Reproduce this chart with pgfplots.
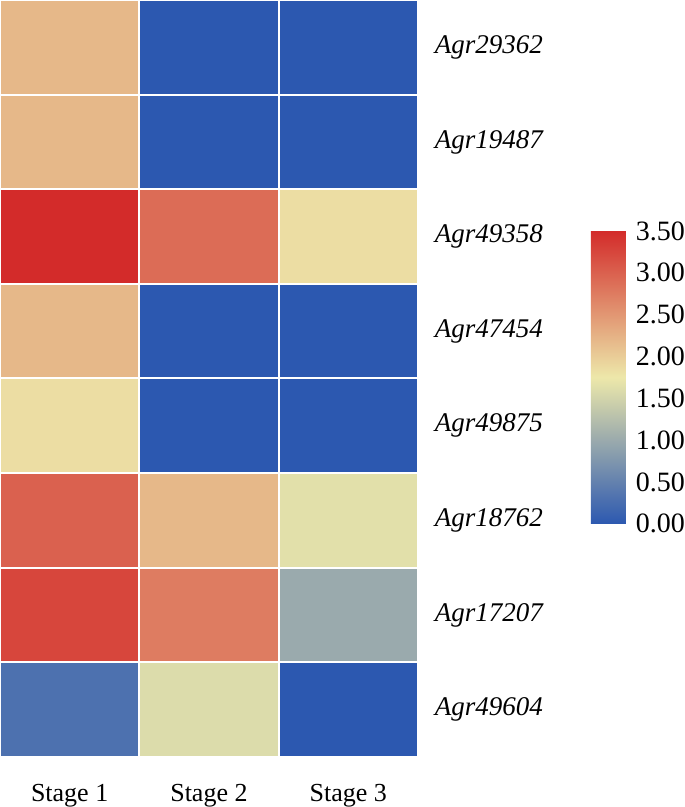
\documentclass[border=0pt]{standalone}
\usepackage{pgfplots}
\pgfplotsset{compat=1.18}
\usepackage{fontspec}
\setmainfont{Liberation Serif}

\pgfplotstableread{
x y v
0 0 2.2
1 0 0
2 0 0
0 1 2.2
1 1 0
2 1 0
0 2 3.5
1 2 2.9
2 2 1.85
0 3 2.2
1 3 0
2 3 0
0 4 1.85
1 4 0
2 4 0
0 5 3.0
1 5 2.2
2 5 1.65
0 6 3.25
1 6 2.75
2 6 1.0
0 7 0.3
1 7 1.6
2 7 0
}\heat

\begin{document}
\begin{tikzpicture}
\begin{axis}[
  scale only axis,
  width=209pt, height=378.5pt,
  xmin=-0.5, xmax=2.5, ymin=-0.5, ymax=7.5,
  y dir=reverse,
  axis line style={draw=none},
  tick style={draw=none},
  xtick={0,1,2},
  xticklabels={Stage 1,Stage 2,Stage 3},
  xticklabel style={font=\fontsize{13}{15}\selectfont, inner ysep=0pt, yshift=-13.5pt},
  ytick={0,...,7},
  yticklabels={Agr29362,Agr19487,Agr49358,Agr47454,Agr49875,Agr18762,Agr17207,Agr49604},
  yticklabel pos=right,
  yticklabel style={font=\fontsize{13.5}{15}\selectfont\itshape, anchor=west, xshift=5pt},
  colormap={heat}{rgb255=(44,88,176) rgb255=(237,232,170) rgb255=(211,43,42)},
  point meta min=0, point meta max=3.5,
  colorbar,
  colorbar/width=17.5pt,
  colorbar style={
    at={(parent axis.north east)}, anchor=north west,
    xshift=78pt, yshift=-115.5pt,
    height=146.5pt,
    axis line style={draw=none},
    tick style={draw=none},
    ytick={0,0.5,...,3.5},
    yticklabel style={font=\fontsize{14}{16}\selectfont, inner xsep=0pt, xshift=4.8pt,
      /pgf/number format/.cd, fixed, fixed zerofill, precision=2, assume math mode=true},
  },
]
\addplot[matrix plot, mesh/cols=3, point meta=explicit, draw=white, line width=1pt]
  table[x=x, y=y, meta=v] {\heat};
\end{axis}
\end{tikzpicture}
\end{document}
